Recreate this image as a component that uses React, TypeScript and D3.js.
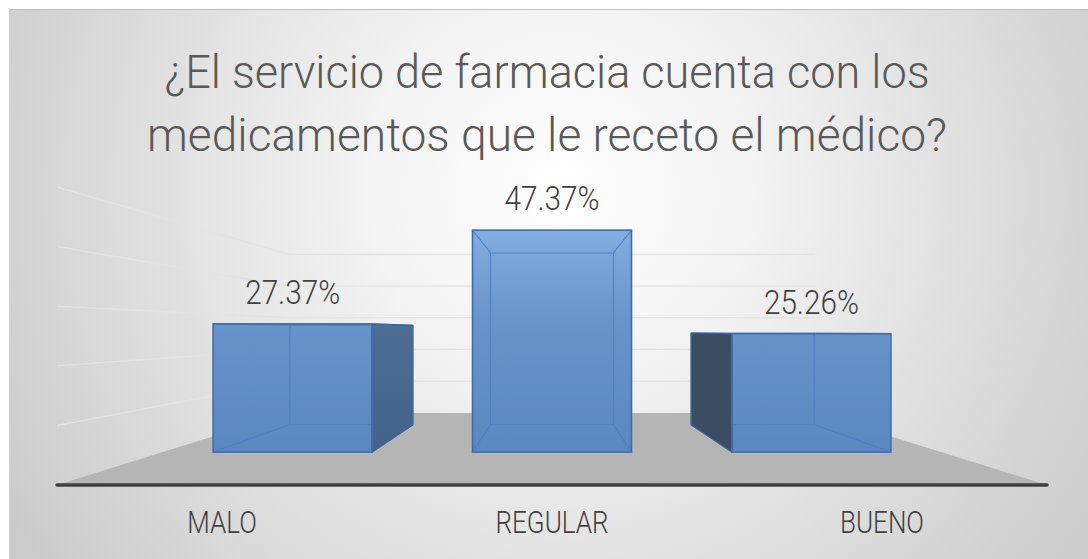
import React from "react";
import * as d3 from "d3";

const categories = ["MALO", "REGULAR", "BUENO"];
const values = [27.37, 47.37, 25.26];
const valueLabels = ["27.37%", "47.37%", "25.26%"];
const gridTicks = [10, 20, 30, 40, 50];
const titleLines = [
  "¿El servicio de farmacia cuenta con los",
  "medicamentos que le receto el médico?",
];

const W = 1088;
const H = 559;
const floorY = 485;
const vx = 552;
const vy = 331;
const fFront = 0.786;
const fBack = 0.608;
const fWall = 0.532;

const x = d3
  .scaleBand<string>()
  .domain(categories)
  .range([57, 1047])
  .paddingInner(0.387)
  .paddingOuter(0.1935);
const y = d3.scaleLinear().domain([0, 50]).range([0, 298]);

function proj(wx: number, h: number, f: number): [number, number] {
  return [vx + (wx - vx) * f, vy + (floorY - h - vy) * f];
}
const pts = (a: [number, number][]) => a.map((p) => p.join(",")).join(" ");

export default function App() {
  const line = d3.line();
  const floor = [
    proj(57, 0, 1),
    proj(1047, 0, 1),
    proj(1047, 0, fWall),
    proj(57, 0, fWall),
  ];
  return (
    <svg
      width={W}
      height={H}
      style={{ position: "absolute", left: 0, top: 0, display: "block" }}
    >
      <defs>
        <radialGradient id="bg" gradientUnits="userSpaceOnUse" cx={560} cy={190} r={640}>
          <stop offset="0" stopColor="#ffffff" />
          <stop offset="0.3" stopColor="#f3f3f3" />
          <stop offset="0.7" stopColor="#dcdcdc" />
          <stop offset="1" stopColor="#cbcbcb" />
        </radialGradient>
        <linearGradient id="barg" gradientUnits="userSpaceOnUse" x1={0} y1={210} x2={0} y2={455}>
          <stop offset="0" stopColor="#8ab3e6" />
          <stop offset="0.45" stopColor="#6893cb" />
          <stop offset="1" stopColor="#5b87c0" />
        </linearGradient>
        <linearGradient id="sideL" x1="0" y1="0" x2="0" y2="1">
          <stop offset="0" stopColor="#4d6d94" />
          <stop offset="1" stopColor="#44628a" />
        </linearGradient>
      </defs>
      <rect x={9} y={9} width={W - 9} height={H - 9} fill="url(#bg)" />
      <line x1={9} y1={9.5} x2={W} y2={9.5} stroke="#bdbdbd" strokeWidth={1} />
      <line x1={9.5} y1={9} x2={9.5} y2={H} stroke="#d2d2d2" strokeWidth={1} />

      {titleLines.map((t, i) => (
        <text
          key={i}
          x={547}
          y={i === 0 ? 88 : 151}
          textAnchor="middle"
          fontFamily="Roboto, 'Open Sans', sans-serif"
          fontWeight={300}
          fontSize={47}
          fill="#595959"
          textLength={i === 0 ? 765 : 800}
          lengthAdjust="spacingAndGlyphs"
        >
          {t}
        </text>
      ))}

      <polygon points={pts(floor)} fill="#b5b5b5" />

      {gridTicks.map((t) => {
        const h = y(t);
        return (
          <path
            key={t}
            d={line([proj(57, h, 1), proj(57, h, fWall), proj(1047, h, fWall)]) || ""}
            fill="none"
            stroke="#e3e3e3"
            strokeWidth={1.5}
          />
        );
      })}

      <line x1={57} y1={floorY} x2={1047} y2={floorY} stroke="#404040" strokeWidth={3.5} strokeLinecap="round" />

      {categories.map((c, i) => {
        const x0 = x(c)!;
        const x1 = x0 + x.bandwidth();
        const h = y(values[i]);
        const fTL = proj(x0, h, fFront), fTR = proj(x1, h, fFront);
        const fBL = proj(x0, 0, fFront), fBR = proj(x1, 0, fFront);
        const bTL = proj(x0, h, fBack), bTR = proj(x1, h, fBack);
        const bBL = proj(x0, 0, fBack), bBR = proj(x1, 0, fBack);
        const cx = (fTL[0] + fTR[0]) / 2;
        const lx = x0 + x.bandwidth() / 2;
        const leftOfVp = x1 < vx;
        const rightOfVp = x0 > vx;
        const side = leftOfVp
          ? [fTR, bTR, bBR, fBR]
          : rightOfVp
          ? [bTL, fTL, fBL, bBL]
          : null;
        const edges: [number, number][][] = [
          [fTL, bTL],
          [fTR, bTR],
          [fBL, bBL],
          [fBR, bBR],
          [bTL, bTR, bBR, bBL, bTL],
        ];
        return (
          <g key={c}>
            <rect
              x={fTL[0]}
              y={fTL[1]}
              width={fTR[0] - fTL[0]}
              height={fBL[1] - fTL[1]}
              fill="url(#barg)"
            />
            {edges.map((e, k) => (
              <path
                key={k}
                d={line(e) || ""}
                fill="none"
                stroke="#4f7ebd"
                strokeOpacity={0.85}
                strokeWidth={1.2}
              />
            ))}
            {side && (
              <polygon
                points={pts(side as [number, number][])}
                fill={leftOfVp ? "url(#sideL)" : "#3b4c63"}
                stroke="#3c6399"
                strokeWidth={1.2}
                strokeLinejoin="round"
              />
            )}
            <rect
              x={fTL[0]}
              y={fTL[1]}
              width={fTR[0] - fTL[0]}
              height={fBL[1] - fTL[1]}
              fill="none"
              stroke="#3d6cab"
              strokeWidth={1.6}
            />
            <text
              transform={`translate(${cx},${fTL[1] - 20}) scale(0.9,1)`}
              textAnchor="middle"
              fontFamily="Roboto, sans-serif"
              fontWeight={300}
              fontSize={33}
              fill="#404040"
            >
              {valueLabels[i]}
            </text>
            <text
              transform={`translate(${lx},533) scale(0.84,1)`}
              textAnchor="middle"
              fontFamily="Roboto, sans-serif"
              fontWeight={300}
              fontSize={31}
              fill="#404040"
            >
              {c}
            </text>
          </g>
        );
      })}
    </svg>
  );
}
